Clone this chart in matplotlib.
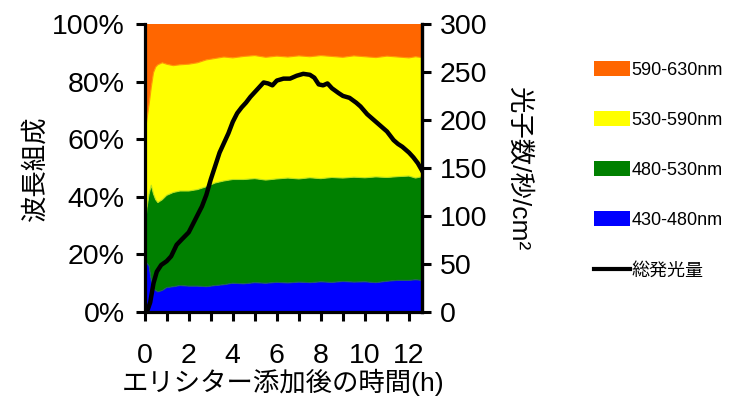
import numpy as np
import matplotlib.pyplot as plt
from matplotlib.patches import Patch
from matplotlib.lines import Line2D

plt.rcParams['font.family'] = ['Liberation Sans', 'Noto Sans CJK JP']

# time points (h) for the wavelength composition
t_comp = [0, 0.1, 0.2, 0.3, 0.4, 0.5, 0.6, 0.8, 1.0, 1.3, 1.6, 2.0, 2.4, 2.8, 3.2, 3.6,
          4.0, 4.5, 5.0, 5.5, 6.0, 6.5, 7.0, 7.5, 8.0, 8.5, 9.0, 9.5, 10.0, 10.5, 11.0,
          11.5, 12.0, 12.3, 12.6]

# cumulative tops (%)
blue_top = [17, 17, 16, 11, 8, 7.5, 7, 7.5, 8.5, 8.8, 9.2, 9.0, 9.0, 8.8, 9.2, 9.5,
            10, 9.8, 10.2, 10, 10.3, 10.1, 10.4, 10.2, 10.5, 10.3, 10.6, 10.4, 10.5, 10.2,
            10.7, 11, 11, 11.2, 11]
green_top = [26, 36, 41, 44, 41, 39, 38, 39, 40.5, 41.5, 42, 42, 42.5, 43.5, 44.8, 45.5,
             46, 46, 46.3, 45.8, 46.2, 46.5, 46.2, 46.6, 46.3, 46.7, 46.5, 46.8, 46.6, 46.9,
             46.7, 47, 47.2, 46.5, 47]
yellow_top = [61.5, 66.7, 72, 78, 83, 85, 85.8, 86.5, 86, 85.5, 85.8, 86, 86.5, 87.5, 88,
              88.5, 88.2, 88.7, 89, 88.4, 88.8, 88.5, 88.9, 88.6, 89, 88.7, 88.4, 88.9, 88.6,
              88.3, 88.8, 88.5, 88.2, 88.6, 88.3]

# total emission (photons/s/cm2)
t_line = [0.1, 0.25, 0.4, 0.55, 0.75, 1.0, 1.2, 1.45, 1.7, 2.0, 2.2, 2.4, 2.6, 2.8, 3.0,
          3.2, 3.4, 3.6, 3.8, 4.0, 4.2, 4.4, 4.6, 4.8, 5.0, 5.2, 5.4, 5.6, 5.8, 6.0, 6.3,
          6.6, 6.9, 7.2, 7.5, 7.7, 7.9, 8.1, 8.3, 8.5, 8.8, 9.0, 9.3, 9.6, 9.8, 10.1, 10.4,
          10.7, 11.0, 11.3, 11.5, 11.7, 12.0, 12.2, 12.4, 12.6]
total = [0, 10, 30, 42, 49, 53, 58, 70, 76, 83, 92, 101, 110, 122, 138, 152, 166, 176,
         186, 198, 207, 213, 218, 224, 229, 234, 239, 238, 236, 241, 243, 243, 246, 248,
         247, 244, 237, 236, 238, 233, 228, 225, 223, 218, 214, 206, 200, 194, 188, 179,
         175, 172, 166, 161, 155, 147]

labels = ['430-480nm', '480-530nm', '530-590nm', '590-630nm']
colors = ['#0000FF', '#008000', '#FFFF00', '#FF6600']

# band shares from cumulative tops
blue = np.array(blue_top)
green = np.array(green_top) - blue
yellow = np.array(yellow_top) - np.array(green_top)
orange = 100 - np.array(yellow_top)

fig = plt.figure(figsize=(7.42, 3.98), dpi=100)
ax = fig.add_axes([0.195, 0.216, 0.374, 0.724])
ax.stackplot(t_comp, blue, green, yellow, orange, colors=colors, linewidth=0)
# faint edge lines between the bands
ax.plot(t_comp, blue_top, color='#1F5F5F', linewidth=0.8)
ax.plot(t_comp, green_top, color='#B8E01C', linewidth=0.8)
ax.plot(t_comp, yellow_top, color='#FF9A00', linewidth=0.8)
ax.set_xlim(0, 12.6)
ax.set_ylim(0, 100)
ax.set_yticks(range(0, 101, 20))
ax.set_yticklabels(['%d%%' % v for v in range(0, 101, 20)])
ax.set_xticks(range(0, 13, 2))
ax.set_xticks(range(1, 13, 2), minor=True)
ax.tick_params(axis='both', which='both', direction='out', length=6.5, width=2.2,
               labelsize=20.5, color='black', pad=8)
ax.tick_params(axis='x', which='major', pad=16)
ax.set_xlabel('エリシター添加後の時間(h)', fontsize=19, labelpad=0)
ax.set_ylabel('波長組成', fontsize=19)
ax.yaxis.set_label_coords(-0.35, 0.5)
ax.spines['top'].set_visible(False)
for s in ['left', 'bottom', 'right']:
    ax.spines[s].set_linewidth(2.3)

ax2 = ax.twinx()
ax2.plot(t_line, total, color='black', linewidth=3.2)
ax2.set_ylim(0, 300)
ax2.set_yticks(range(0, 301, 50))
ax2.tick_params(axis='y', direction='out', length=6.5, width=2.2, labelsize=20.5, pad=6)
ax2.set_ylabel('光子数/秒/cm²', fontsize=19, rotation=270)
ax2.yaxis.set_label_coords(1.39, 0.5)
ax2.spines['top'].set_visible(False)
ax2.spines['right'].set_linewidth(2.3)

handles = [Patch(facecolor=c, edgecolor='none') for c in colors[::-1]]
handles.append(Line2D([0], [0], color='black', linewidth=3))
fig.legend(handles, labels[::-1] + ['総発光量'], loc='upper left',
           bbox_to_anchor=(0.779, 0.888), frameon=False, fontsize=13,
           handlelength=2.0, handleheight=0.9, handletextpad=0.05, labelspacing=1.8)

fig.savefig('out.png', dpi=100)
